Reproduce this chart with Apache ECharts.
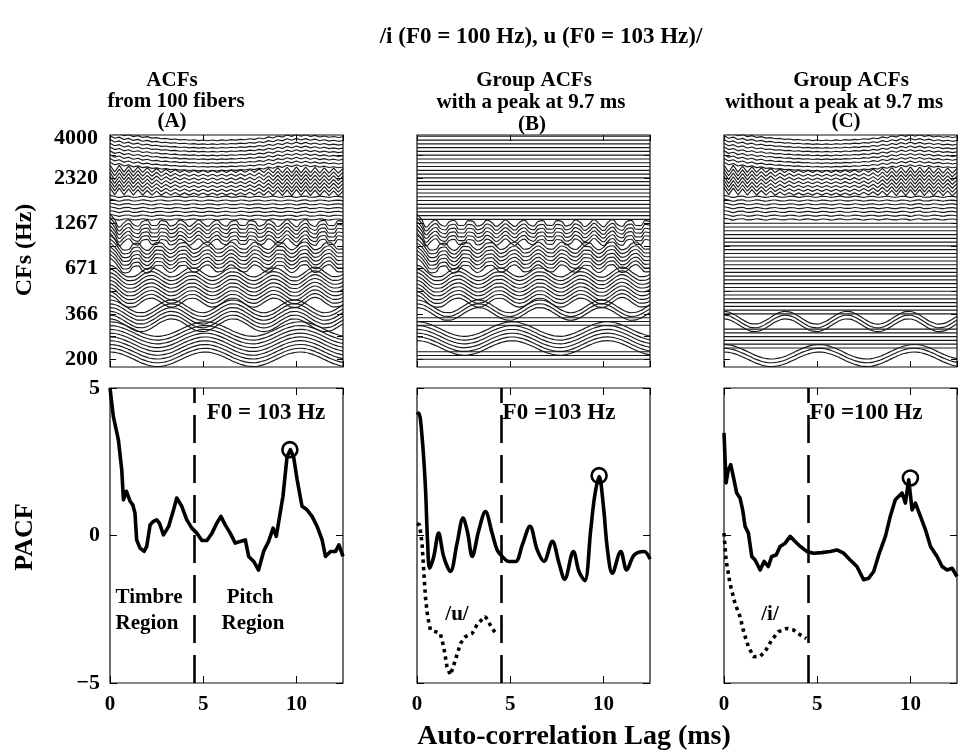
<!DOCTYPE html>
<html>
<head>
<meta charset="utf-8">
<script src="https://cdn.jsdelivr.net/npm/echarts@6/dist/echarts.min.js"></script>
<style>
html,body{margin:0;padding:0;background:#fff;}
#chart{width:959px;height:752px;}
</style>
</head>
<body>
<div id="chart"></div>
<script>
// lag sample points (ms) for the fiber ACF traces
var lagGrid = [0,0.25,0.5,0.75,1,1.25,1.5,1.75,2,2.25,2.5,2.75,3,3.25,3.5,3.75,4,4.25,4.5,4.75,5,5.25,5.5,5.75,6,6.25,6.5,6.75,7,7.25,7.5,7.75,8,8.25,8.5,8.75,9,9.25,9.5,9.75,10,10.25,10.5,10.75,11,11.25,11.5,11.75,12,12.25,12.5];

// ACF trace shapes per CF band (offset in units of fiber spacing)
var acfShapeA = [1.92,1.83,1.56,1.14,0.63,0.06,-0.54,-1.08,-1.5,-1.8,-1.92,-1.86,-1.62,-1.26,-0.75,-0.18,0.42,0.96,1.41,1.74,1.89,1.89,1.68,1.32,0.87,0.3,-0.3,-0.87,-1.32,-1.68,-1.89,-1.92,-1.74,-1.41,-0.96,-0.42,0.18,0.75,1.26,1.62,1.86,1.92,1.8,1.5,1.08,0.54,-0.06,-0.63,-1.14,-1.56,-1.83];
var acfShapeB = [1.68,1.5,0.96,0.24,-0.54,-1.2,-1.62,-1.65,-1.32,-0.69,0.09,0.84,1.41,1.68,1.56,1.11,0.39,-0.39,-1.11,-1.56,-1.68,-1.41,-0.84,-0.09,0.69,1.32,1.65,1.62,1.2,0.54,-0.24,-0.99,-1.5,-1.68,-1.5,-0.99,-0.24,0.54,1.2,1.62,1.65,1.32,0.69,-0.09,-0.84,-1.41,-1.68,-1.56,-1.11,-0.39,0.39];
var acfShapeC = [1.92,1.38,0.3,-0.72,-1.2,-1.14,-0.54,0.36,1.02,1.2,0.78,0,-0.78,-1.2,-1.02,-0.36,0.48,1.08,1.14,0.66,-0.18,-0.9,-1.2,-0.9,-0.18,0.66,1.14,1.08,0.48,-0.36,-1.02,-1.2,-0.78,0,0.78,1.2,1.02,0.36,-0.54,-1.2,-1.26,-0.72,0.18,1.02,1.38,1.02,0.18,-0.66,-1.14,-1.08,-0.48];
var acfShapeD = [2.8,1.76,0.16,-1.12,-0.96,0.48,0.72,-0.56,-1.2,-0.32,0.88,0.8,-0.32,-1.04,-0.4,0.72,0.88,-0.08,-0.96,-0.56,0.56,0.96,0.16,-0.88,-0.72,0.32,0.96,0.32,-0.72,-0.88,0.08,0.96,0.56,-0.56,-0.96,-0.16,0.88,0.8,-0.32,-1.04,-0.4,0.8,1.04,-0.08,-1.04,-0.64,0.56,1.04,0.16,-0.88,-0.8];
var acfShapeE = [2.4,0.96,-1.04,0.16,0.88,-0.36,-0.8,0.48,0.72,-0.6,-0.6,0.68,0.48,-0.76,-0.36,0.8,0.24,-0.84,-0.08,0.84,-0.08,-0.84,0.2,0.8,-0.32,-0.76,0.44,0.68,-0.56,-0.6,0.68,0.48,-0.76,-0.36,0.84,0.24,-0.88,-0.08,0.96,-0.04,-0.96,0.24,0.96,-0.36,-0.88,0.48,0.76,-0.6,-0.64,0.68,0.48];
var acfShapeF = [0.36,0.12,-0.18,0.12,0.18,-0.12,-0.06,0.18,0,-0.18,0.06,0.15,-0.09,-0.12,0.12,0.09,-0.15,0,0.15,-0.06,-0.12,0.12,0.06,-0.15,0.03,0.15,-0.09,-0.09,0.15,0.03,-0.15,0.06,0.12,-0.12,-0.03,0.15,-0.06,-0.12,0.12,0.09,-0.18,0.06,0.18,-0.12,-0.09,0.15,0.03,-0.15,0.06,0.12,-0.09];
var acfShapeG = [1.38,-0.45,1.29,-0.48,1.11,-0.54,0.9,-0.54,0.66,-0.57,0.48,-0.6,0.27,-0.57,0.15,-0.57,0.03,-0.57,-0.03,-0.57,-0.03,-0.57,-0.03,-0.57,-0.03,-0.57,0,-0.57,0.06,-0.54,0.18,-0.54,0.33,-0.6,0.51,-0.66,0.69,-0.69,0.81,-0.69,0.9,-0.66,0.87,-0.69,0.75,-0.72,0.66,-0.72,0.57,-0.75,0.48];
var acfShapeH = [1.14,0.48,0.78,0.15,0.45,-0.09,0.18,-0.3,-0.09,-0.48,-0.36,-0.66,-0.57,-0.81,-0.72,-0.96,-0.84,-1.05,-0.93,-1.14,-0.99,-1.17,-0.99,-1.17,-0.96,-1.11,-0.9,-1.02,-0.81,-0.93,-0.66,-0.81,-0.45,-0.66,-0.15,-0.45,0.09,-0.21,0.33,-0.03,0.45,0,0.39,-0.06,0.24,-0.18,0.09,-0.27,-0.06,-0.33,-0.12];

// fiber bands (fiber row 0 = lowest CF, 60 rows drawn)
var bandFirst = [0, 9, 15, 24, 31, 37, 44, 51];
var bandLast  = [8, 14, 23, 30, 36, 43, 50, 59];
var bandShape = [acfShapeA, acfShapeB, acfShapeC, acfShapeD, acfShapeE, acfShapeF, acfShapeG, acfShapeH];

// fibers without a peak at 9.7 ms (panel C); all others are in panel B
var noPeakFibers = [0,1,2,9,10,11,37,38,39,40,41,42,43,44,45,46,47,48,49,50,51,52,53,54,55,56,57,58,59];

// CF axis
var cfTickFiber = [0, 12, 24, 36, 48, 58.5];
var cfTickLabels = ['200', '366', '671', '1267', '2320', '4000'];
var cfMinorTicks = [0, 6, 12, 18, 24, 30, 36, 42, 48, 54];

// pooled ACFs
var pacfALag = [0,0.18,0.45,0.63,0.72,0.88,1.08,1.22,1.34,1.43,1.61,1.83,1.97,2.15,2.33,2.51,2.65,2.87,3.14,3.41,3.58,3.85,4.12,4.39,4.66,4.93,5.2,5.47,5.73,5.95,6.18,6.45,6.72,6.99,7.26,7.44,7.71,7.97,8.24,8.51,8.75,8.92,9.1,9.28,9.5,9.68,9.86,10.04,10.3,10.57,10.84,11.11,11.38,11.56,11.83,12.1,12.28,12.5];
var pacfAVal = [5.0,4.03,3.24,2.23,1.21,1.5,1.16,1.04,0.76,-0.15,-0.43,-0.54,-0.37,0.36,0.48,0.53,0.42,0.02,0.3,0.87,1.27,0.99,0.53,0.25,0.08,-0.17,-0.17,0.08,0.42,0.65,0.36,0.08,-0.26,-0.2,-0.15,-0.71,-0.88,-1.17,-0.54,-0.2,0.25,-0.03,0.65,1.33,2.68,2.91,2.63,1.89,0.99,0.87,0.65,0.31,-0.15,-0.71,-0.54,-0.54,-0.32,-0.71];
var pacfBLag = [0,0.09,0.27,0.45,0.57,0.68,0.9,1.16,1.43,1.79,2.15,2.47,2.72,2.96,3.32,3.67,4.03,4.3,4.57,4.93,5.29,5.65,6.06,6.45,6.81,7.26,7.62,7.92,8.39,8.69,9.0,9.32,9.53,9.77,10.0,10.22,10.48,10.93,11.25,11.65,12.19,12.5];
var pacfBVal = [4.1,4.15,3.36,1.66,-0.26,-1.11,-0.71,0.08,-0.71,-1.22,-0.26,0.59,0.08,-0.71,0.19,0.81,0.08,-0.49,-0.71,-0.88,-0.88,-0.32,0.31,-0.49,-0.88,-0.2,-0.94,-1.48,-0.54,-1.22,-1.53,0.19,1.33,2.0,0.99,-0.49,-1.28,-0.54,-1.17,-0.66,-0.54,-0.8];
var pacfCLag = [0,0.11,0.23,0.36,0.5,0.68,0.86,1.0,1.13,1.31,1.49,1.67,1.94,2.15,2.38,2.56,2.8,3.01,3.28,3.55,3.82,4.09,4.44,4.8,5.25,5.7,6.06,6.42,6.77,7.13,7.49,7.76,8.03,8.3,8.66,8.92,9.19,9.55,9.73,9.91,10.09,10.27,10.54,10.81,11.08,11.43,11.7,11.97,12.24,12.5];
var pacfCVal = [3.48,1.78,2.23,2.4,2.0,1.44,1.27,0.87,0.31,0.08,-0.71,-0.83,-1.17,-0.88,-1.05,-0.71,-0.66,-0.37,-0.26,-0.03,-0.2,-0.37,-0.54,-0.6,-0.58,-0.54,-0.49,-0.6,-0.83,-1.05,-1.5,-1.45,-1.22,-0.66,-0.03,0.65,1.21,1.44,1.1,1.89,0.87,1.1,0.65,0.19,-0.37,-0.71,-1.05,-1.17,-1.11,-1.39];
// single vowel pooled ACFs (timbre region only)
var vowelULag = [0,0.14,0.27,0.36,0.45,0.57,0.72,0.99,1.25,1.43,1.61,1.79,2.06,2.33,2.6,2.96,3.26,3.67,4.03,4.3];
var vowelUVal = [0.4,0.36,-0.26,-1.17,-2.07,-2.75,-3.2,-3.26,-3.32,-3.77,-4.45,-4.73,-4.22,-3.66,-3.43,-3.32,-2.98,-2.75,-3.15,-3.37];
var vowelILag = [0,0.11,0.32,0.59,0.86,1.08,1.31,1.58,1.94,2.2,2.56,2.92,3.37,3.73,4.09,4.41];
var vowelIVal = [0.08,-0.83,-1.62,-2.3,-2.75,-3.32,-3.77,-4.11,-4.09,-3.94,-3.54,-3.26,-3.15,-3.2,-3.37,-3.49];

var peakLag = [9.65, 9.77, 10.0];
var peakVal = [2.91, 2.03, 1.95];
var regionSplitLag = 4.5;
var f0Labels = ['F0 = 103 Hz', 'F0 =103 Hz', 'F0 =100 Hz'];

var FONT = '"Liberation Serif", "Times New Roman", serif';
var chart = echarts.init(document.getElementById('chart'));

var panelLeft = [110, 417, 724];
var panelW = 233;
var grids = [], xAxes = [], yAxes = [], series = [];

function pairs(xs, ys) {
    return xs.map(function (x, i) { return [x, ys[i]]; });
}

for (var g = 0; g < 6; g++) {
    var isTop = g < 3;
    var col = g % 3;
    grids.push({
        left: panelLeft[col], width: panelW,
        top: isTop ? 135 : 388, height: isTop ? 232 : 295,
        show: true, borderColor: '#111', borderWidth: 1.2, backgroundColor: 'transparent'
    });
    var tickX = {inside: true, length: isTop ? 6 : 7, lineStyle: {color: '#000', width: 1}};
    xAxes.push({
        gridIndex: g, type: 'value', min: 0, max: 12.5, interval: 5, position: 'bottom',
        axisLine: {show: false, onZero: false}, axisTick: tickX, splitLine: {show: false},
        axisLabel: {show: !isTop, showMaxLabel: false, color: '#000', fontFamily: FONT, fontWeight: 'bold', fontSize: 21, margin: 11}
    });
    xAxes.push({
        gridIndex: g, type: 'value', min: 0, max: 12.5, interval: 5, position: 'top',
        axisLine: {show: false, onZero: false}, axisTick: tickX, splitLine: {show: false}, axisLabel: {show: false}
    });
    if (isTop) {
        yAxes.push({
            gridIndex: g, type: 'value', min: -2.04, max: 59.34, position: 'left',
            axisLine: {show: false, onZero: false}, splitLine: {show: false},
            axisTick: {inside: true, length: 6, customValues: cfMinorTicks, lineStyle: {color: '#000'}},
            axisLabel: {
                show: col === 0, customValues: cfTickFiber, color: '#000', fontFamily: FONT,
                fontWeight: 'bold', fontSize: 22, margin: 12,
                formatter: function (v) {
                    var i = cfTickFiber.indexOf(v);
                    return i >= 0 ? cfTickLabels[i] : '';
                }
            }
        });
        yAxes.push({
            gridIndex: g, type: 'value', min: -2.04, max: 59.34, position: 'right',
            axisLine: {show: false, onZero: false}, splitLine: {show: false},
            axisTick: {inside: true, length: 6, customValues: cfMinorTicks, lineStyle: {color: '#000'}},
            axisLabel: {show: false}
        });
    } else {
        yAxes.push({
            gridIndex: g, type: 'value', min: -5, max: 5, interval: 5, position: 'left',
            axisLine: {show: false, onZero: false}, splitLine: {show: false},
            axisTick: {inside: true, length: 7, lineStyle: {color: '#000'}},
            axisLabel: {
                show: col === 0, color: '#000', fontFamily: FONT, fontWeight: 'bold', fontSize: 22, margin: 10,
                formatter: function (v) { return v < 0 ? '\u2212' + (-v) : String(v); }
            }
        });
        yAxes.push({
            gridIndex: g, type: 'value', min: -5, max: 5, interval: 5, position: 'right',
            axisLine: {show: false, onZero: false}, splitLine: {show: false},
            axisTick: {inside: true, length: 7, lineStyle: {color: '#000'}}, axisLabel: {show: false}
        });
    }
}

function bandOf(k) {
    for (var b = 0; b < bandFirst.length; b++) {
        if (k >= bandFirst[b] && k <= bandLast[b]) return b;
    }
    return 0;
}

// top row: one line per fiber
for (var p = 0; p < 3; p++) {
    for (var k = 0; k < 60; k++) {
        var b = bandOf(k);
        var noPeak = noPeakFibers.indexOf(k) >= 0;
        var wavy = p === 0 || (p === 1 && !noPeak) || (p === 2 && noPeak);
        var shape = bandShape[b];
        var data = wavy
            ? lagGrid.map(function (x, j) { return [x, k + shape[j]]; })
            : [[0, k], [12.5, k]];
        series.push({
            type: 'line', xAxisIndex: p * 2, yAxisIndex: p * 2, data: data,
            symbol: 'none', smooth: wavy && b < 6 ? 0.5 : false,
            lineStyle: {width: 1.15, color: '#1a1a1a'}, silent: true, z: 2
        });
    }
}

// bottom row: pooled ACFs
var pacfSets = [pairs(pacfALag, pacfAVal), pairs(pacfBLag, pacfBVal), pairs(pacfCLag, pacfCVal)];
var vowelSets = [null, pairs(vowelULag, vowelUVal), pairs(vowelILag, vowelIVal)];
for (var q = 0; q < 3; q++) {
    var ax = (3 + q) * 2;
    series.push({
        type: 'line', xAxisIndex: ax, yAxisIndex: ax, data: pacfSets[q],
        symbol: 'none', smooth: q === 1 ? 0.35 : false, silent: true, z: 3,
        lineStyle: {width: 3.6, color: '#000', join: 'round'},
        markLine: {
            silent: true, symbol: 'none', label: {show: false},
            lineStyle: {type: [28, 12], width: 2.6, color: '#000'},
            data: [{xAxis: regionSplitLag}]
        }
    });
    if (vowelSets[q]) {
        series.push({
            type: 'line', xAxisIndex: ax, yAxisIndex: ax, data: vowelSets[q],
            symbol: 'none', silent: true, z: 3,
            lineStyle: {width: 3.6, color: '#000', type: [3.5, 4], cap: 'butt'}
        });
    }
    series.push({
        type: 'scatter', xAxisIndex: ax, yAxisIndex: ax, data: [[peakLag[q], peakVal[q]]],
        symbol: 'circle', symbolSize: 15, silent: true, z: 4,
        itemStyle: {color: 'rgba(0,0,0,0)', borderColor: '#000', borderWidth: 2.6, opacity: 1}
    });
}

function txt(text, x, y, size, rot) {
    return {
        type: 'text', x: x, y: y, rotation: rot || 0, silent: true, z: 10,
        style: {text: text, font: 'bold ' + size + 'px ' + FONT, fill: '#000', align: 'center', verticalAlign: 'middle'}
    };
}

var graphics = [
    txt('/i (F0 = 100 Hz), u (F0 = 103 Hz)/', 541, 37, 23),
    txt('ACFs', 172, 81, 21),
    txt('from 100 fibers', 176, 102, 21),
    txt('(A)', 172, 122, 21),
    txt('Group ACFs', 534, 81, 21),
    txt('with a peak at 9.7 ms', 531, 103, 21),
    txt('(B)', 532, 125, 21),
    txt('Group ACFs', 851, 81, 21),
    txt('without a peak at 9.7 ms', 834, 103, 21),
    txt('(C)', 846, 122, 21),
    txt('CFs (Hz)', 25, 250, 24, Math.PI / 2),
    txt('PACF', 25, 537, 26, Math.PI / 2),
    txt('Auto-correlation Lag (ms)', 574, 737, 28),
    txt(f0Labels[0], 266, 413, 23),
    txt(f0Labels[1], 559, 413, 23),
    txt(f0Labels[2], 866, 413, 23),
    txt('Timbre', 149, 598, 21),
    txt('Region', 147, 624, 21),
    txt('Pitch', 250, 598, 21),
    txt('Region', 253, 624, 21),
    txt('/u/', 457, 615, 21),
    txt('/i/', 770, 615, 21)
];

chart.setOption({
    animation: false,
    backgroundColor: '#fff',
    grid: grids,
    xAxis: xAxes,
    yAxis: yAxes,
    series: series,
    graphic: graphics
});
</script>
</body>
</html>
